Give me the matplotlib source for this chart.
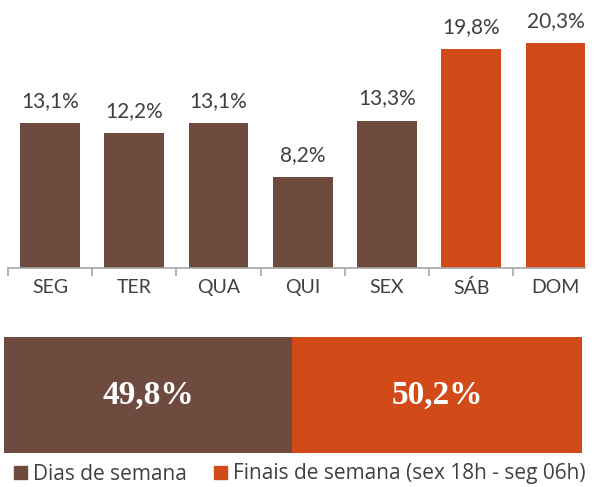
import matplotlib
matplotlib.use('Agg')
import matplotlib.pyplot as plt
from matplotlib.patches import Patch
import numpy as np

# data
dias = ['SEG', 'TER', 'QUA', 'QUI', 'SEX', 'SÁB', 'DOM']
valores = [13.1, 12.2, 13.1, 8.2, 13.3, 19.8, 20.3]
fim_semana = [False, False, False, False, False, True, True]

grupos = ['Dias de semana', 'Finais de semana (sex 18h - seg 06h)']
totais = [49.8, 50.2]

MARROM = '#6F4B3F'
LARANJA = '#D24A18'
TEXTO = '#404040'

W, H = 595, 487
fig = plt.figure(figsize=(W / 100, H / 100), dpi=100)

def px_axes(left, top, right, bottom):
    # axes in pixel coords measured from the top-left corner
    return fig.add_axes([left / W, 1 - bottom / H, (right - left) / W, (bottom - top) / H])

## top: bar chart per weekday
ax = px_axes(8, 2.3, 585, 268)
x = np.arange(len(dias))
cores = [LARANJA if f else MARROM for f in fim_semana]
ax.bar(x, valores, width=0.71, color=cores)
for xi, v in zip(x, valores):
    ax.text(xi, v + 1.1, f'{v:.1f}%'.replace('.', ','), ha='center', va='bottom',
            fontsize=15, family='Lato', color=TEXTO)

ax.set_xlim(-0.5, 6.35)
ax.set_ylim(0, 24)
for s in ['top', 'right', 'left']:
    ax.spines[s].set_visible(False)
ax.spines['bottom'].set_color('#A6A6A6')
ax.spines['bottom'].set_linewidth(1.2)
ax.set_yticks([])
ax.set_xticks(x)
ax.set_xticklabels(dias, fontsize=14, family='Lato', color=TEXTO)
ax.set_xticks(np.arange(-0.5, 6.0, 1), minor=True)
ax.tick_params(axis='x', which='major', length=0, pad=8)
ax.tick_params(axis='x', which='minor', length=6, width=1.2, color='#A6A6A6')

## bottom: stacked split
ax2 = px_axes(4, 337, 582, 453)
esq = 0
for t, c in zip(totais, [MARROM, LARANJA]):
    ax2.barh(0, t, left=esq, height=1, color=c)
    ax2.text(esq + t / 2, 0, f'{t:.1f}%'.replace('.', ','), ha='center', va='center',
             fontsize=24, family='Liberation Serif', fontweight='bold', color='white')
    esq += t
ax2.set_xlim(0, sum(totais))
ax2.set_ylim(-0.5, 0.5)
ax2.axis('off')

handles = [Patch(color=MARROM), Patch(color=LARANJA)]
fig.legend(handles, grupos, loc='center', bbox_to_anchor=(300 / W, 1 - 474 / H),
           ncol=2, frameon=False, prop={'family': 'Open Sans', 'size': 15},
           handlelength=0.6, handleheight=0.6, handletextpad=0.3, columnspacing=1.3,
           labelcolor=TEXTO)

fig.savefig('out.png', dpi=100)
